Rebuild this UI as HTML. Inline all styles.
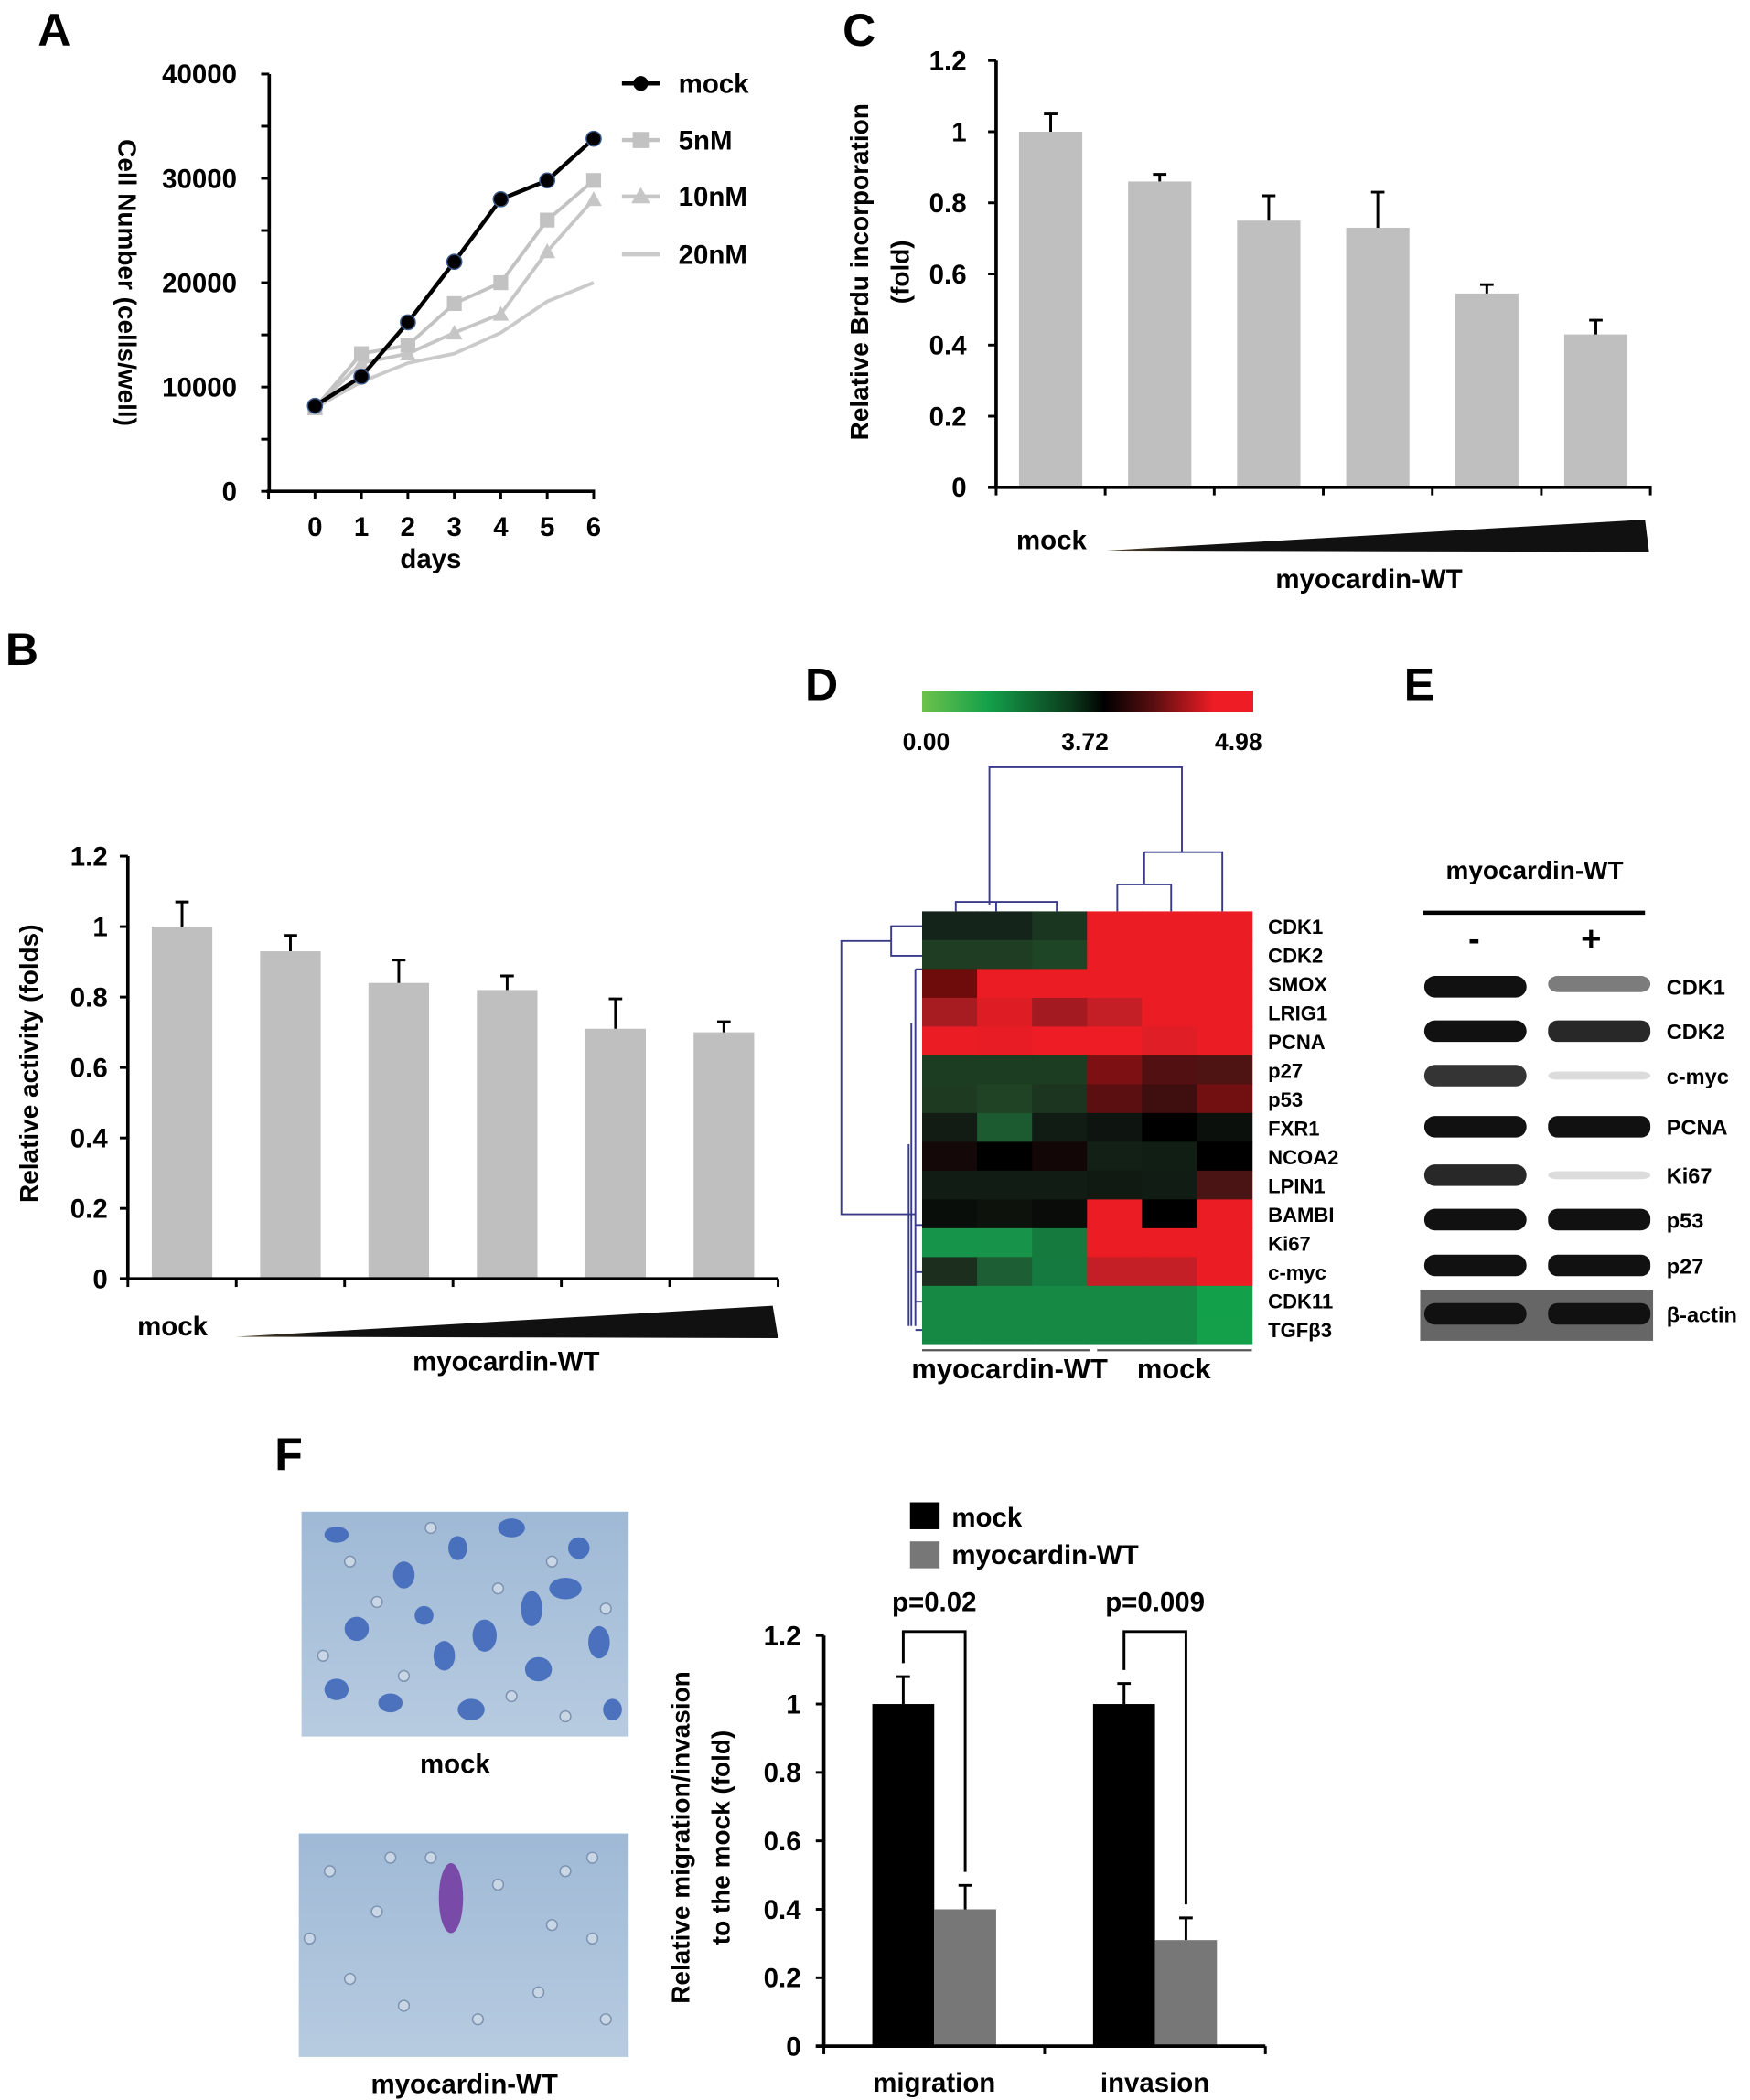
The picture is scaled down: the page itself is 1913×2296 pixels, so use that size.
<!DOCTYPE html>
<html><head><meta charset="utf-8"><style>
html,body{margin:0;padding:0;background:#fff;}
svg{display:block;font-family:"Liberation Sans",Arial,sans-serif;font-weight:bold;}
</style></head><body>
<svg id="fig" width="1913" height="2296" viewBox="0 0 1300 1560" preserveAspectRatio="none">
<defs>
<linearGradient id="cbar" x1="0" x2="1" y1="0" y2="0">
<stop offset="0" stop-color="#6cc24a"/><stop offset="0.2" stop-color="#14a04a"/><stop offset="0.45" stop-color="#0b3a1c"/><stop offset="0.55" stop-color="#000"/><stop offset="0.7" stop-color="#5a0e10"/><stop offset="0.88" stop-color="#ee1c24"/><stop offset="1" stop-color="#ee1c24"/>
</linearGradient>
<linearGradient id="wedge" x1="0" x2="1"><stop offset="0" stop-color="#5a4a30"/><stop offset="0.15" stop-color="#111"/><stop offset="1" stop-color="#111"/></linearGradient>
<linearGradient id="photo" x1="0" x2="0" y1="0" y2="1"><stop offset="0" stop-color="#9fb9d6"/><stop offset="1" stop-color="#b7cbe0"/></linearGradient>
</defs>
<g font-size="34">
<text x="28" y="34">A</text>
<text x="4" y="494">B</text>
<text x="626" y="34">C</text>
<text x="598" y="520">D</text>
<text x="1043" y="520">E</text>
<text x="204" y="1092">F</text>
</g>
<g id="pA"></g>
<g id="pB"></g>
<g id="pC"></g>
<g id="pD"></g>
<g id="pE"></g>
<g id="pF"></g>
</svg>
<script>
// ---------- Panel A data ----------
const daysA = [0,1,2,3,4,5,6];
const seriesNamesA = ['mock','5nM','10nM','20nM'];
const mockA = [8200,11000,16200,22000,28000,29800,33800];
const nM5A = [8000,13200,14000,18000,20000,26000,29800];
const nM10A = [8000,12300,13200,15200,17000,23000,28000];
const nM20A = [8000,10500,12300,13200,15200,18200,20000];
const yTicksA = [0,10000,20000,30000,40000];
// ---------- Panel B data ----------
const valuesB = [1.0,0.93,0.84,0.82,0.71,0.70];
const errorsB = [0.07,0.045,0.065,0.04,0.085,0.03];
const yTicksB = [0,0.2,0.4,0.6,0.8,1,1.2];
// ---------- Panel C data ----------
const valuesC = [1.0,0.86,0.75,0.73,0.545,0.43];
const errorsC = [0.05,0.02,0.07,0.10,0.025,0.04];
const yTicksC = [0,0.2,0.4,0.6,0.8,1,1.2];
// ---------- Panel D data ----------
const genesD = ['CDK1','CDK2','SMOX','LRIG1','PCNA','p27','p53','FXR1','NCOA2','LPIN1','BAMBI','Ki67','c-myc','CDK11','TGFβ3'];
const cellsD = [
['#15241a','#15241a','#1a3520','#ec1c24','#ec1c24','#ec1c24'],
['#1e3d22','#1e3d22','#1d4526','#ec1c24','#ec1c24','#ec1c24'],
['#6e0b0b','#ec1c24','#ec1c24','#ec1c24','#ec1c24','#ec1c24'],
['#a61c21','#dd1c23','#a31a20','#c41e26','#ec1c24','#ec1c24'],
['#ec1c24','#e81c24','#ee1c24','#ee1c24','#e01e26','#ec1c24'],
['#1d3d22','#1d3d22','#1d3d22','#7c1012','#531012','#4e1414'],
['#1e3b21','#204225','#1c3520','#5b0f11','#3f0e0e','#720f11'],
['#121c14','#1c5a30','#111d14','#0e1410','#000000','#0b100c'],
['#150809','#000000','#120607','#132016','#111e14','#000000'],
['#111d14','#111d14','#111d14','#101a12','#111d14','#4b1414'],
['#0a0e0b','#0d120d','#090c09','#ec1c24','#000000','#ec1c24'],
['#16944a','#17934a','#157a3e','#ec1c24','#ec1c24','#ec1c24'],
['#1c2e1e','#1d5e35','#157a40','#c41e26','#c41e26','#ec1c24'],
['#168a45','#168a45','#168a45','#168a45','#168a45','#12a04a'],
['#168a45','#168a45','#168a45','#168a45','#168a45','#14a04a']];
const scaleLabelsD = ['0.00','3.72','4.98'];
// ---------- Panel E data ----------
const proteinsE = ['CDK1','CDK2','c-myc','PCNA','Ki67','p53','p27','β-actin'];
const minusIntensityE = [1,1,0.85,1,0.9,1,1,1];
const plusIntensityE = [0.55,0.9,0.15,1,0.15,1,1,1];
// ---------- Panel F data ----------
const groupsF = ['migration','invasion'];
const mockF = [1.0,1.0];
const mockErrF = [0.08,0.06];
const myoF = [0.40,0.31];
const myoErrF = [0.07,0.065];
const pValuesF = ['p=0.02','p=0.009'];
const yTicksF = [0,0.2,0.4,0.6,0.8,1,1.2];

const NS='http://www.w3.org/2000/svg';
function mk(parent, tag, attrs, text){const e=document.createElementNS(NS,tag);for(const k in attrs)e.setAttribute(k,attrs[k]);if(text!==undefined)e.textContent=text;parent.appendChild(e);return e;}
let el;

// ===== Panel A =====
(function(){
const g=document.getElementById('pA');
const xA=d=>234+d*34.5, yA=v=>365-v/40000*310;
el=mk(g,'line',{x1:200,y1:yA(0),x2:200,y2:yA(40000),stroke:'#000','stroke-width':2.5});

el=mk(g,'line',{x1:198,y1:yA(0),x2:442,y2:yA(0),stroke:'#000','stroke-width':2.5});

for(let v=0;v<=40000;v+=5000){el=mk(g,'line',{x1:194,y1:yA(v),x2:200,y2:yA(v),stroke:'#000','stroke-width':2});
}
yTicksA.forEach(v=>{el=mk(g,'text',{x:176,y:yA(v)+7,'text-anchor':'end','font-size':20},String(v));
});
for(let d=-1;d<=6;d++){el=mk(g,'line',{x1:xA(d),y1:yA(0),x2:xA(d),y2:yA(0)+6,stroke:'#000','stroke-width':2});
}
daysA.forEach(d=>{el=mk(g,'text',{x:xA(d),y:398,'text-anchor':'middle','font-size':20},String(d));
});
el=mk(g,'text',{x:320,y:422,'text-anchor':'middle','font-size':20},'days');

el=mk(g,'text',{x:0,y:0,'text-anchor':'middle','font-size':19,transform:'translate(88,210) rotate(90)'},'Cell Number (cells/well)');

const all=[mockA,nM5A,nM10A,nM20A];
const cols=['#000','#c2c2c2','#c6c6c6','#cacaca'];
[3,2,1,0].forEach(si=>{
 const pts=all[si].map((v,i)=>xA(daysA[i])+','+yA(v)).join(' ');
 el=mk(g,'polyline',{points:pts,fill:'none',stroke:cols[si],'stroke-width':si===0?3:2.6});
 
 all[si].forEach((v,i)=>{const x=xA(daysA[i]),y=yA(v);
  if(si===0){el=mk(g,'circle',{cx:x,cy:y,r:5.5,fill:'#000',stroke:'#3a5a8a','stroke-width':1});}
  else if(si===1){el=mk(g,'rect',{x:x-5.5,y:y-5.5,width:11,height:11,fill:'#c2c2c2'});}
  else if(si===2){el=mk(g,'polygon',{points:`${x},${y-6} ${x-6},${y+5} ${x+6},${y+5}`,fill:'#c6c6c6'});}
  else return;
  });
});
const ly=[62,104,146,189];
seriesNamesA.forEach((n,si)=>{
 el=mk(g,'line',{x1:462,y1:ly[si],x2:490,y2:ly[si],stroke:cols[si],'stroke-width':3});
 
 if(si===0){el=mk(g,'circle',{cx:476,cy:ly[si],r:5.5,fill:'#000'});}
 if(si===1){el=mk(g,'rect',{x:470,y:ly[si]-6,width:12,height:12,fill:'#c2c2c2'});}
 if(si===2){el=mk(g,'polygon',{points:`476,${ly[si]-7} 469,${ly[si]+5} 483,${ly[si]+5}`,fill:'#c6c6c6'});}
 el=mk(g,'text',{x:504,y:ly[si]+7,'font-size':20},n);
 
});
})();

// ===== Bar chart helper for B and C =====
function barPanel(gid,prefix,vals,errs,ticks,ax,ay0,ay1,axEnd,band,bw,tickX){
 const g=document.getElementById(gid);
 const y=v=>ay0-v/1.2*(ay0-ay1);
 vals.forEach((v,i)=>{const cx=ax+(i+0.5)*band;
  el=mk(g,'rect',{x:cx-bw/2,y:y(v),width:bw,height:y(0)-y(v),fill:'#bfbfbf'});
  
  el=mk(g,'path',{d:`M${cx},${y(v)}V${y(v+errs[i])}M${cx-5},${y(v+errs[i])}H${cx+5}`,stroke:'#000','stroke-width':2,fill:'none'});
  
 });
 el=mk(g,'line',{x1:ax,y1:y(0),x2:ax,y2:y(1.2),stroke:'#000','stroke-width':2.5});
 
 el=mk(g,'line',{x1:ax-6,y1:y(0),x2:axEnd,y2:y(0),stroke:'#000','stroke-width':2.5});
 
 ticks.forEach(t=>{el=mk(g,'line',{x1:ax-6,y1:y(t),x2:ax,y2:y(t),stroke:'#000','stroke-width':2});
  
  el=mk(g,'text',{x:tickX,y:y(t)+7,'text-anchor':'end','font-size':20},String(t));
  });
 for(let i=0;i<=vals.length;i++){el=mk(g,'line',{x1:ax+i*band,y1:y(0),x2:ax+i*band,y2:y(0)+6,stroke:'#000','stroke-width':2});
  }
 return g;
}
(function(){
 const g=barPanel('pB','b',valuesB,errorsB,yTicksB,95,950,636,578,80.5,45,80);
 el=mk(g,'polygon',{points:'175,993 574,970 578,994',fill:'url(#wedge)'});
 
 el=mk(g,'text',{x:102,y:992,'font-size':20},'mock');
 
 el=mk(g,'text',{x:376,y:1018,'text-anchor':'middle','font-size':20},'myocardin-WT');
 
 el=mk(g,'text',{x:0,y:0,'text-anchor':'middle','font-size':19,transform:'translate(28,790) rotate(-90)'},'Relative activity (folds)');
 
})();
(function(){
 const g=barPanel('pC','c',valuesC,errorsC,yTicksC,740,362,45,1227,81,47,718);
 el=mk(g,'polygon',{points:'822,409 1222,386 1225,410',fill:'url(#wedge)'});
 
 el=mk(g,'text',{x:755,y:408,'font-size':20},'mock');
 
 el=mk(g,'text',{x:1017,y:437,'text-anchor':'middle','font-size':20},'myocardin-WT');
 
 el=mk(g,'text',{x:0,y:0,'text-anchor':'middle','font-size':19,transform:'translate(645,202) rotate(-90)'},'Relative Brdu incorporation');
 
 el=mk(g,'text',{x:0,y:0,'text-anchor':'middle','font-size':19,transform:'translate(675,202) rotate(-90)'},'(fold)');
 
})();

// ===== Panel D =====
(function(){
 const g=document.getElementById('pD');
 const x0=685,y0=677,cw=245/6,rh=321/15;
 cellsD.forEach((row,r)=>row.forEach((c,ci)=>{
  el=mk(g,'rect',{x:x0+ci*cw,y:y0+r*rh,width:cw+0.5,height:rh+0.5,fill:c});
  }));
 genesD.forEach((n,r)=>{el=mk(g,'text',{x:942,y:y0+r*rh+rh/2+6,'font-size':15},n);
  });
 el=mk(g,'rect',{x:685,y:513,width:246,height:16,fill:'url(#cbar)'});
 
 [688,806,920].forEach((x,i)=>{el=mk(g,'text',{x:x,y:557,'text-anchor':'middle','font-size':18},scaleLabelsD[i]);
  });
 const dc='#3a3a8a';
 el=mk(g,'path',{d:'M735,672V570H878V633 M710,677V670H785V677 M740,670V677 M850,633H908V677 M850,633V657 M830,677V657H870V677',stroke:dc,'stroke-width':1.3,fill:'none'});
 
 el=mk(g,'path',{d:'M685,688H662V710H685 M662,699H625V902H680 M680,720V985 M680,720H685 M677,760V985 M675,850V985 M680,910H685 M680,945H685 M680,967H685 M680,988H685',stroke:dc,'stroke-width':1.3,fill:'none'});
 
 el=mk(g,'path',{d:'M685,1003H810 M815,1003H930',stroke:'#555','stroke-width':1.5});
 
 el=mk(g,'text',{x:750,y:1024,'text-anchor':'middle','font-size':21},'myocardin-WT');
 
 el=mk(g,'text',{x:872,y:1024,'text-anchor':'middle','font-size':21},'mock');
 
})();

// ===== Panel E =====
(function(){
 const g=document.getElementById('pE');
 const rowsY=[733,766,799,837,873,906,940,976];
 el=mk(g,'text',{x:1140,y:653,'text-anchor':'middle','font-size':19},'myocardin-WT');
 
 el=mk(g,'line',{x1:1057,y1:678,x2:1222,y2:678,stroke:'#000','stroke-width':3});
 
 el=mk(g,'text',{x:1095,y:706,'text-anchor':'middle','font-size':26},'-');
 
 el=mk(g,'text',{x:1182,y:706,'text-anchor':'middle','font-size':26},'+');
 
 el=mk(g,'rect',{x:1055,y:958,width:173,height:38,fill:'#666'});
 
 proteinsE.forEach((p,i)=>{
  const y=rowsY[i];
  const a=minusIntensityE[i], b=plusIntensityE[i];
  el=mk(g,'rect',{x:1058,y:y-8,width:76,height:16,rx:8,fill:'#111','fill-opacity':a});
  
  el=mk(g,'rect',{x:1150,y:y-(b<0.3?3:8),width:76,height:b<0.3?6:(b<0.7?12:16),rx:7,fill:'#111','fill-opacity':b});
  
  el=mk(g,'text',{x:1238,y:y+6,'font-size':16},p);
  
 });
})();

// ===== Panel F =====
(function(){
 const g=document.getElementById('pF');
 // photos
 el=mk(g,'rect',{x:224,y:1123,width:243,height:167,fill:'url(#photo)'});
 
 el=mk(g,'rect',{x:222,y:1362,width:245,height:166,fill:'url(#photo)'});
 
 const blobs=[[250,1140,9,6],[300,1170,8,10],[340,1150,7,9],[380,1135,10,7],[420,1180,12,8],[265,1210,9,9],[330,1230,8,11],[360,1215,9,12],[400,1240,10,9],[445,1220,8,12],[290,1265,9,7],[350,1270,10,8],[430,1150,8,8],[250,1255,9,8],[395,1195,8,13],[315,1200,7,7],[455,1270,7,8]];
 blobs.forEach(b=>{el=mk(g,'ellipse',{cx:b[0],cy:b[1],rx:b[2],ry:b[3],fill:'#3a63b8','fill-opacity':0.85});
  });
 const dots=[[260,1160],[280,1190],[320,1135],[370,1180],[410,1160],[450,1195],[240,1230],[300,1245],[380,1260],[420,1275],[245,1390],[280,1420],[320,1380],[370,1400],[420,1390],[440,1440],[260,1470],[300,1490],[400,1480],[450,1500],[230,1440],[410,1430],[290,1380],[355,1500],[440,1380]];
 dots.forEach(d=>{el=mk(g,'circle',{cx:d[0],cy:d[1],r:4,fill:'#c8d6e6',stroke:'#7d93b0','stroke-width':1});
  });
 el=mk(g,'ellipse',{cx:335,cy:1410,rx:9,ry:26,fill:'#7a4aa8'});
 
 el=mk(g,'text',{x:338,y:1317,'text-anchor':'middle','font-size':20},'mock');
 
 el=mk(g,'text',{x:345,y:1555,'text-anchor':'middle','font-size':20},'myocardin-WT');
 
 // chart
 const ax=612, y=v=>1520-v/1.2*305, band=164;
 groupsF.forEach((gname,i)=>{
  const c=ax+(i+0.5)*band;
  el=mk(g,'rect',{x:c-46,y:y(mockF[i]),width:46,height:y(0)-y(mockF[i]),fill:'#000'});
  
  el=mk(g,'rect',{x:c,y:y(myoF[i]),width:46,height:y(0)-y(myoF[i]),fill:'#777'});
  
  const mx=c-23, yx=c+23;
  el=mk(g,'path',{d:`M${mx},${y(mockF[i])}V${y(mockF[i]+mockErrF[i])}M${mx-5},${y(mockF[i]+mockErrF[i])}H${mx+5}`,stroke:'#000','stroke-width':2,fill:'none'});
  
  el=mk(g,'path',{d:`M${yx},${y(myoF[i])}V${y(myoF[i]+myoErrF[i])}M${yx-5},${y(myoF[i]+myoErrF[i])}H${yx+5}`,stroke:'#000','stroke-width':2,fill:'none'});
  
  el=mk(g,'path',{d:`M${mx},${y(mockF[i]+mockErrF[i])-10}V1212H${yx}V${y(myoF[i]+myoErrF[i])-10}`,stroke:'#000','stroke-width':2,fill:'none'});
  
  el=mk(g,'text',{x:c,y:1197,'text-anchor':'middle','font-size':20},pValuesF[i]);
  
  el=mk(g,'text',{x:c,y:1554,'text-anchor':'middle','font-size':20},gname);
  
 });
 el=mk(g,'line',{x1:ax,y1:y(0),x2:ax,y2:y(1.2),stroke:'#000','stroke-width':2.5});
 
 el=mk(g,'line',{x1:ax-6,y1:y(0),x2:940,y2:y(0),stroke:'#000','stroke-width':2.5});
 
 for(let i=0;i<=2;i++){el=mk(g,'line',{x1:ax+i*band,y1:y(0),x2:ax+i*band,y2:y(0)+6,stroke:'#000','stroke-width':2});
  }
 yTicksF.forEach(t=>{el=mk(g,'line',{x1:ax-6,y1:y(t),x2:ax,y2:y(t),stroke:'#000','stroke-width':2});
  
  el=mk(g,'text',{x:595,y:y(t)+7,'text-anchor':'end','font-size':20},String(t));
  });
 el=mk(g,'text',{x:0,y:0,'text-anchor':'middle','font-size':19,transform:'translate(512,1365) rotate(-90)'},'Relative migration/invasion');
 
 el=mk(g,'text',{x:0,y:0,'text-anchor':'middle','font-size':19,transform:'translate(542,1365) rotate(-90)'},'to the mock (fold)');
 
 el=mk(g,'rect',{x:676,y:1116,width:22,height:20,fill:'#000'});
 
 el=mk(g,'text',{x:707,y:1134,'font-size':20},'mock');
 
 el=mk(g,'rect',{x:676,y:1145,width:22,height:20,fill:'#777'});
 
 el=mk(g,'text',{x:707,y:1162,'font-size':20},'myocardin-WT');
 
})();
</script>
</body></html>
